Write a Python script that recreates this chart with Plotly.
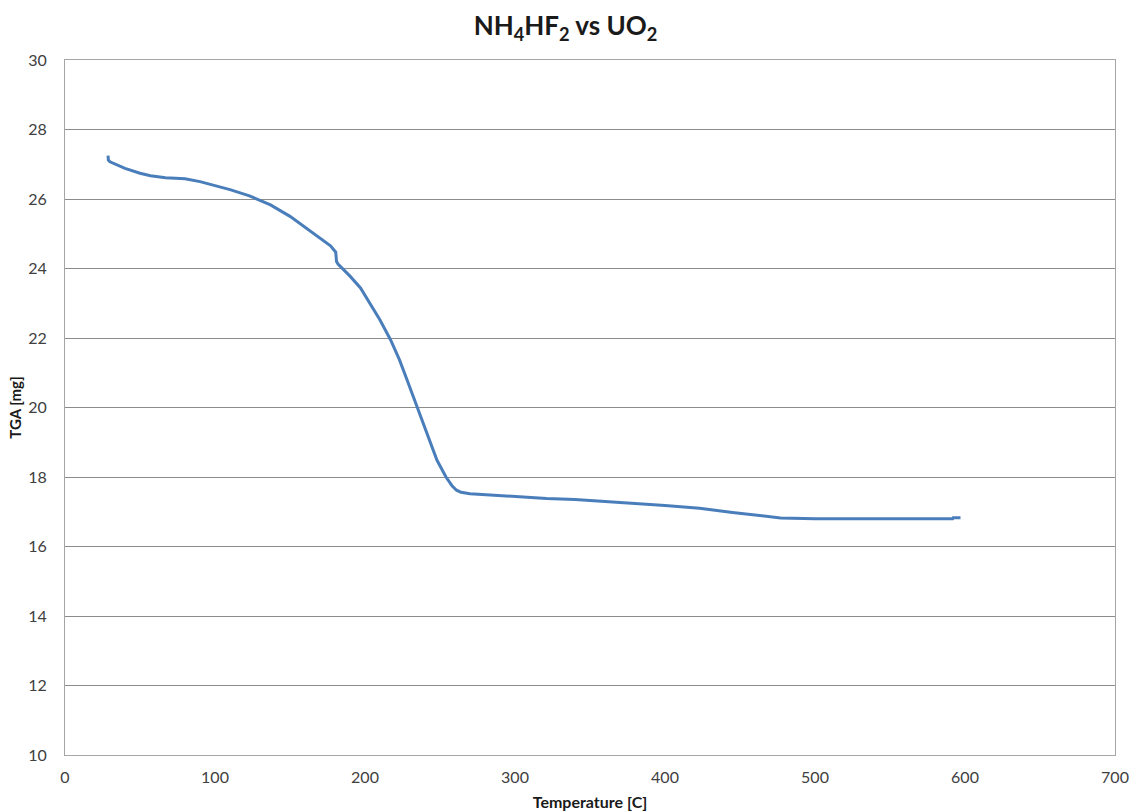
import plotly.graph_objects as go

temperature = [28.7, 28.9, 30, 35, 40, 50, 57, 67, 80, 90, 100, 110, 123, 137, 150, 157, 167, 177,
               180.5, 181, 182, 185, 190, 197, 203, 210, 217, 223, 228, 233, 238, 243, 248, 254,
               258, 261, 264, 270, 277, 290, 300, 321, 340, 357, 380, 400, 423, 445, 463, 477,
               500, 550, 591.8, 592.2, 597]
tga = [27.25, 27.12, 27.07, 26.98, 26.88, 26.74, 26.67, 26.61, 26.58, 26.5, 26.39, 26.27, 26.09,
       25.83, 25.5, 25.28, 24.98, 24.65, 24.47, 24.2, 24.13, 24.0, 23.78, 23.44, 23.0, 22.52,
       21.95, 21.37, 20.8, 20.22, 19.65, 19.07, 18.48, 18.0, 17.75, 17.62, 17.56, 17.52, 17.5,
       17.46, 17.43, 17.38, 17.35, 17.31, 17.24, 17.18, 17.1, 16.98, 16.88, 16.82, 16.8, 16.8,
       16.8, 16.83, 16.83]

x_ticks = [0, 100, 200, 300, 400, 500, 600, 700]
y_ticks = [10, 12, 14, 16, 18, 20, 22, 24, 26, 28, 30]

fig = go.Figure()
fig.add_trace(go.Scatter(x=temperature, y=tga, mode="lines",
                         line=dict(color="#4A7EBB", width=3), showlegend=False))

fig.update_layout(
    width=1131, height=811,
    margin=dict(l=65, r=16, t=60, b=56, autoexpand=False),
    paper_bgcolor="white", plot_bgcolor="white",
    font=dict(family="Lato, Open Sans, Liberation Sans, sans-serif", color="#404040"),
    title=dict(text="<b>NH<sub>4</sub>HF<sub>2</sub> vs UO<sub>2</sub></b>",
               x=0.5, xanchor="center", y=0.968, yanchor="middle",
               font=dict(size=26, color="#1a1a1a")),
)
fig.update_xaxes(range=[0, 700], tickvals=x_ticks, showgrid=False, zeroline=False,
                 showline=True, linecolor="#A6A6A6", linewidth=1, mirror=True,
                 tickfont=dict(size=16, color="#404040"), ticklabelstandoff=8,
                 automargin=False,
                 title=dict(text="<b>Temperature [C]</b>", font=dict(size=16, color="#1a1a1a"),
                            standoff=12))
fig.update_yaxes(range=[10, 30], tickvals=y_ticks, showgrid=True, gridcolor="#8C8C8C",
                 gridwidth=1, zeroline=False,
                 showline=True, linecolor="#A6A6A6", linewidth=1, mirror=True,
                 tickfont=dict(size=16, color="#404040"), ticklabelstandoff=14,
                 automargin=False,
                 title=dict(text="<b>TGA [mg]</b>", font=dict(size=15, color="#1a1a1a"),
                            standoff=2))

fig.write_html("out.html", config={"displayModeBar": False},
               post_script="document.body.style.margin='0';")
